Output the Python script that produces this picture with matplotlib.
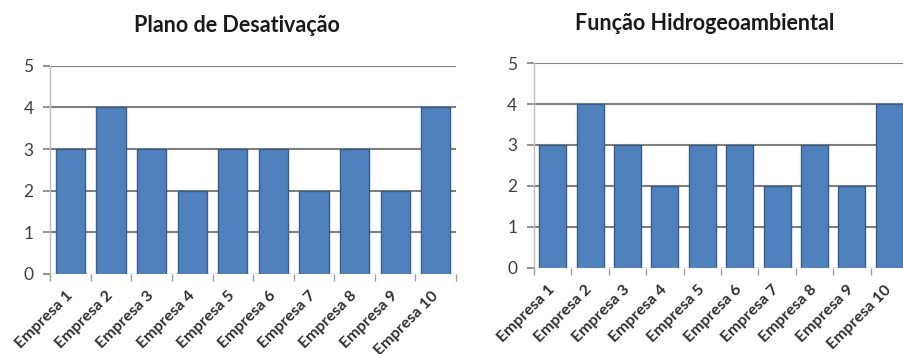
import matplotlib
matplotlib.use('Agg')
import matplotlib.pyplot as plt
import matplotlib.transforms as mtransforms
import numpy as np

empresas = ['Empresa 1', 'Empresa 2', 'Empresa 3', 'Empresa 4', 'Empresa 5',
            'Empresa 6', 'Empresa 7', 'Empresa 8', 'Empresa 9', 'Empresa 10']
plano_desativacao = [3, 4, 3, 2, 3, 3, 2, 3, 2, 4]
funcao_hidrogeo = [3, 4, 3, 2, 3, 3, 2, 3, 2, 4]
yticks = [0, 1, 2, 3, 4, 5]

plt.rcParams['font.family'] = ['Lato', 'DejaVu Sans']

BAR = '#4f81bd'
EDGE = '#385d8a'


def bar_chart(fig, rect, valores, titulo, title_x, title_y, shift_px):
    ax = fig.add_axes(rect)
    x = np.arange(len(empresas))
    ax.bar(x, valores, width=0.72, color=BAR, edgecolor=EDGE, linewidth=1.0, zorder=3)
    ax.set_xlim(-0.5, len(empresas) - 0.5)
    ax.set_ylim(0, 5)
    ax.set_yticks(yticks)
    ax.set_yticklabels([str(v) for v in yticks], fontsize=12.5, color='#404040')
    # linhas de grade atras das barras
    for v in yticks[1:]:
        ax.axhline(v, color='#7f7f7f', lw=1.5, zorder=1)
    ax.axhline(0, color='#a0a0a0', lw=1.0, zorder=4)
    ax.set_xticks(x)
    ax.set_xticklabels(empresas, rotation=45, ha='right', va='center',
                       rotation_mode='anchor', fontsize=11.5, fontweight='bold',
                       color='#303030')
    shift = mtransforms.ScaledTranslation(shift_px / 100, 0, fig.dpi_scale_trans)
    for lab in ax.get_xticklabels():
        lab.set_transform(lab.get_transform() + shift)
    ax.tick_params(axis='x', length=0, pad=14)
    ax.set_xticks(np.arange(-0.5, len(empresas)), minor=True)
    ax.tick_params(axis='x', which='minor', length=5, color='#a0a0a0', width=1)
    ax.tick_params(axis='y', length=5, color='#808080', width=1.2, pad=7)
    for s in ['top', 'right', 'bottom']:
        ax.spines[s].set_visible(False)
    ax.spines['left'].set_color('#bfbfbf')
    ax.spines['left'].set_linewidth(1.0)
    fig.text(title_x, title_y, titulo, ha='center', va='center', fontsize=15.5,
             fontweight='bold', color='#1a1a1a')
    return ax


fig = plt.figure(figsize=(9.04, 3.54), dpi=100)
bar_chart(fig, [0.0555, 0.226, 0.449, 0.588], plano_desativacao,
          'Plano de Desativação', 237 / 904, 1 - 26 / 354, 5)
bar_chart(fig, [0.5907, 0.243, 0.4137, 0.579], funcao_hidrogeo,
          'Função Hidrogeoambiental', 705 / 904, 1 - 23 / 354, 7)
fig.savefig('out.png', dpi=100)
